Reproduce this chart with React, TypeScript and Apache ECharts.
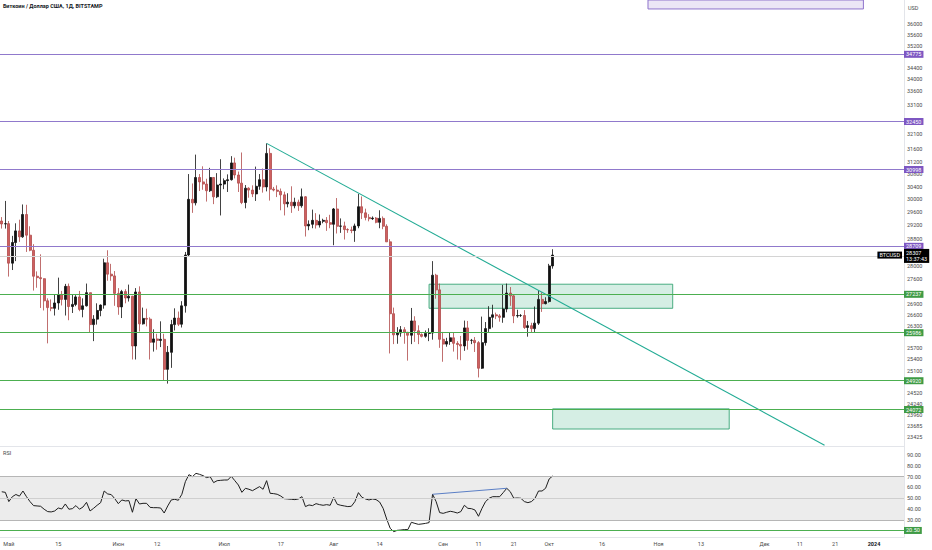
import React, { useEffect, useRef } from "react";
import * as echarts from "echarts";

// ---------- data ----------
const START_UTC = Date.UTC(2023, 3, 29);
const DAY_COUNT = 256;

// [open, close, low, high] per day from 2023-04-29
const candles: number[][] = [
  [29330, 29240, 29100, 29450], [29240, 29250, 29100, 29950], [29250, 28070, 27680, 29330], [28070, 28680, 27870, 28880],
  [28680, 29030, 28130, 29260], [29030, 28850, 28700, 29370], [28850, 29530, 28820, 29840], [29530, 28900, 28400, 29830],
  [28900, 28450, 28420, 29170], [28450, 27690, 27280, 28630], [27690, 27650, 27360, 27830], [27650, 27620, 26790, 28330],
  [27620, 26990, 26720, 27630], [26990, 26800, 25820, 27060], [26800, 26780, 26700, 27030], [26780, 26930, 26580, 27180],
  [26930, 27170, 26740, 27650], [27170, 27030, 26860, 27270], [27030, 27400, 26580, 27470], [27400, 26830, 26450, 27480],
  [26830, 26890, 26650, 27180], [26890, 27100, 26840, 27150], [27100, 26750, 26700, 27270], [26750, 26850, 26530, 27060],
  [26850, 27220, 26830, 27480], [27220, 26330, 26100, 27220], [26330, 26480, 25880, 26590], [26480, 26720, 26330, 26920],
  [26720, 26870, 26560, 26890], [26870, 28080, 26770, 28200], [28080, 27750, 27560, 28450], [27750, 27700, 27560, 28050],
  [27700, 27200, 26850, 27840], [27200, 26820, 26600, 27350], [26820, 27250, 26510, 27300], [27250, 27070, 26920, 27320],
  [27070, 27120, 26970, 27450], [27120, 25750, 25390, 27130], [25750, 27240, 25390, 27350], [27240, 26350, 26140, 27400],
  [26350, 26500, 26330, 26800], [26500, 26480, 26280, 26770], [26480, 25850, 25390, 26530], [25850, 25940, 25600, 26200],
  [25940, 25900, 25650, 26080], [25900, 25930, 25720, 26420], [25930, 25130, 24840, 26080], [25130, 25580, 24760, 25750],
  [25580, 26330, 25170, 26460], [26330, 26510, 26170, 26780], [26510, 26340, 26290, 26690], [26340, 26850, 26250, 26980],
  [26850, 28310, 26660, 28400], [28310, 30000, 28280, 30800], [30000, 29890, 29580, 30500], [29890, 30690, 29810, 31430],
  [30690, 30550, 30260, 30800], [30550, 30480, 30300, 31050], [30480, 30270, 29930, 30650], [30270, 30690, 30230, 31000],
  [30690, 30080, 29850, 30700], [30080, 30450, 30040, 30830], [30450, 30480, 29500, 31280], [30480, 30590, 30320, 30660],
  [30590, 30620, 30230, 30790], [30620, 31160, 30590, 31380], [31160, 30770, 30660, 31330], [30770, 30510, 30230, 30880],
  [30510, 29900, 29850, 31500], [29900, 30350, 29720, 30450], [30350, 30290, 30050, 30380], [30290, 30170, 30070, 30440],
  [30170, 30410, 29950, 31040], [30410, 30620, 30300, 30800], [30620, 30390, 30210, 30980], [30390, 31470, 30250, 31800],
  [31470, 30320, 29960, 31640], [30320, 30290, 30250, 30390], [30290, 30250, 30070, 30440], [30250, 30140, 29660, 30340],
  [30140, 29860, 29500, 30240], [29860, 29910, 29750, 30190], [29910, 29800, 29580, 30410], [29800, 29910, 29720, 30050],
  [29910, 29800, 29640, 29990], [29800, 30080, 29740, 30340], [30080, 29180, 28860, 30100], [29180, 29230, 29050, 29350],
  [29230, 29350, 29110, 29680], [29350, 29210, 29100, 29570], [29210, 29320, 29130, 29530], [29320, 29350, 29260, 29400],
  [29350, 29280, 29030, 29450], [29280, 29230, 29110, 29520], [29230, 29700, 28600, 29730], [29700, 29170, 28950, 30040],
  [29170, 29180, 28970, 29410], [29180, 29070, 28770, 29310], [29070, 29060, 28970, 29110], [29060, 29040, 28960, 29160],
  [29040, 29180, 28700, 29250], [29180, 29770, 29110, 30170], [29770, 29580, 29390, 30090], [29580, 29440, 29350, 29710],
  [29440, 29400, 29320, 29540], [29400, 29420, 29360, 29470], [29420, 29290, 29260, 29450], [29290, 29410, 29110, 29660],
  [29410, 29170, 29080, 29470], [29170, 28700, 28700, 29230], [28700, 26630, 25550, 28780], [26630, 26050, 25800, 26800],
  [26050, 26100, 25810, 26260], [26100, 26190, 26000, 26290], [26190, 26120, 25810, 26260], [26120, 26040, 25360, 26130],
  [26040, 26430, 25800, 26790], [26430, 26160, 25860, 26560], [26160, 26060, 25800, 26310], [26060, 26010, 25980, 26090],
  [26010, 26090, 25970, 26170], [26090, 26100, 25880, 26230], [26100, 27720, 25920, 28130], [27720, 27300, 27050, 27760],
  [27300, 25930, 25700, 27480], [25930, 25800, 25330, 26130], [25800, 25870, 25730, 25970], [25870, 25970, 25780, 26120],
  [25970, 25820, 25600, 26100], [25820, 25790, 25390, 25880], [25790, 25750, 25370, 26020], [25750, 26240, 25620, 26440],
  [26240, 25900, 25650, 26430], [25900, 25900, 25800, 25940], [25900, 25840, 25590, 25990], [25840, 25160, 24920, 25880],
  [25160, 25840, 25140, 26550], [25840, 26220, 25760, 26400], [26220, 26530, 26130, 26840], [26530, 26600, 26250, 26880],
  [26600, 26570, 26480, 26660], [26570, 26530, 26410, 26620], [26530, 26760, 26380, 27440], [26760, 27210, 26670, 27480],
  [27210, 27130, 26850, 27380], [27130, 26570, 26370, 27160], [26570, 26580, 26520, 26740], [26580, 26580, 26540, 26620],
  [26580, 26250, 26210, 26730], [26250, 26300, 26000, 26430], [26300, 26220, 26120, 26380], [26220, 26370, 26120, 26830],
  [26370, 27030, 26320, 27290], [27030, 26910, 26680, 27230], [26910, 26970, 26890, 27090], [26970, 27990, 26940, 28050],
  [27990, 28307, 27910, 28480],
];

const rsiValues: number[] = [
  56.0, 55.5, 47.0, 51.5, 53.5, 52.0, 56.7, 51.5, 47.0, 43.3,
  43.0, 42.7, 40.0, 37.8, 37.5, 38.4, 41.1, 40.2, 44.8, 40.0,
  40.5, 43.3, 40.0, 42.0, 46.3, 38.4, 40.8, 43.6, 46.0, 56.7,
  54.0, 53.4, 49.7, 45.1, 48.5, 47.6, 47.9, 37.2, 49.7, 44.8,
  45.4, 45.4, 41.7, 41.4, 41.4, 41.1, 36.5, 43.0, 48.5, 49.1,
  48.2, 53.7, 65.3, 71.7, 69.9, 72.9, 72.0, 70.8, 69.0, 69.9,
  64.4, 66.2, 66.5, 66.8, 66.8, 70.2, 66.2, 62.2, 55.5, 59.2,
  58.3, 57.0, 58.9, 60.7, 58.3, 66.2, 54.6, 54.3, 53.7, 52.1,
  49.7, 49.4, 49.1, 48.8, 49.4, 51.5, 42.4, 43.9, 43.3, 45.1,
  44.2, 43.6, 44.2, 43.6, 50.9, 44.5, 43.6, 43.0, 42.4, 42.7,
  47.0, 55.2, 50.9, 49.4, 48.5, 49.4, 48.8, 46.6, 40.8, 31.0,
  22.5, 19.4, 20.6, 20.9, 21.3, 21.3, 28.0, 27.0, 26.1, 26.5,
  27.0, 27.7, 53.7, 47.0, 36.9, 36.2, 37.2, 38.1, 37.5, 36.5,
  37.8, 43.6, 40.8, 40.5, 39.3, 33.5, 40.8, 47.0, 50.0, 51.5,
  51.5, 51.5, 55.2, 59.2, 56.1, 50.0, 50.3, 50.0, 47.0, 46.0,
  47.0, 50.0, 56.7, 56.7, 59.2, 67.7, 70.5,
];

const priceTicks = [
  36000, 35600, 35200, 34400, 34000, 33600, 33100, 32600, 32100, 31600, 31200, 30800, 30400, 30000,
  29600, 29200, 28800, 28400, 28000, 27600, 26900, 26600, 26300, 25700, 25400, 25100, 24800, 24520,
  24240, 23960, 23685, 23425,
];
const rsiTicks = [30, 40, 50, 60, 70, 80, 90];

const purpleLevels = [34775, 32450, 30998, 28709];
const greenLevels = [27237, 25986, 24920, 24072];
const lastPrice = 28307;
const countdown = "13:37:43";
const rsiUserLevel = 20.5;
const rsiBand = [30, 70];
const rsiMid = 50;

const dateLabels: Record<string, string> = {
  "2023-05-01": "Май", "2023-05-15": "15", "2023-06-01": "Июн", "2023-06-12": "12",
  "2023-07-01": "Июл", "2023-07-17": "17", "2023-08-01": "Авг", "2023-08-14": "14",
  "2023-09-01": "Сен", "2023-09-11": "11", "2023-09-21": "21", "2023-10-01": "Окт",
  "2023-10-16": "16", "2023-11-01": "Ноя", "2023-11-13": "13", "2023-12-01": "Дек",
  "2023-12-11": "11", "2023-12-21": "21", "2024-01-01": "2024",
};

const trendLine: [string, number][] = [["2023-07-13", 31800], ["2023-12-18", 23220]];
const rsiDivergence: [string, number][] = [["2023-08-29", 53.7], ["2023-09-19", 59.2]];

const greenZones: [string, number, string, number][] = [
  ["2023-08-28", 27461, "2023-11-05", 26781],
  ["2023-10-02", 24117, "2023-11-21", 23616],
];
const purpleZones: [string, number, string, number][] = [
  ["2023-10-29", 38500, "2023-12-29", 36580],
];

const PRICE_MIN = 23202;
const PRICE_MAX = 36923;
const RSI_MIN = 14.5;
const RSI_MAX = 98;

const TITLE = "Биткоин / Доллар США, 1Д, BITSTAMP";

// ---------- helpers ----------
const L = (p: number) => Math.log(p);
const dates: string[] = Array.from({ length: DAY_COUNT }, (_, i) =>
  new Date(START_UTC + i * 86400000).toISOString().slice(0, 10)
);

const FONT = 'Roboto, "Noto Sans", sans-serif';
const PURPLE_LINE = "#9079cc";
const PURPLE_TAG = "#7e57c2";
const GREEN_LINE = "#4caf50";
const GREEN_TAG = "#3f9b45";

function tagLabel(text: string, bg: string) {
  return {
    show: true,
    position: "end",
    distance: 0,
    formatter: text,
    backgroundColor: bg,
    color: "#ffffff",
    fontSize: 5.5,
    fontFamily: FONT,
    padding: [1, 2, 0, 2],
  };
}

export default function App() {
  const ref = useRef<HTMLDivElement>(null);

  useEffect(() => {
    if (!ref.current) return;
    const chart = echarts.init(ref.current, undefined, { renderer: "svg" });

    const levelLines: any[] = [
      ...purpleLevels.map((v) => ({
        yAxis: L(v),
        lineStyle: { color: PURPLE_LINE, width: 1, type: "solid" },
        label: tagLabel(String(v), PURPLE_TAG),
      })),
      ...greenLevels.map((v) => ({
        yAxis: L(v),
        lineStyle: { color: GREEN_LINE, width: 1, type: "solid" },
        label: tagLabel(String(v), GREEN_TAG),
      })),
      {
        yAxis: L(lastPrice),
        lineStyle: { color: "#d4d4d4", width: 1, type: "solid" },
        label: {
          ...tagLabel(`${lastPrice}\n${countdown}`, "#000000"),
          lineHeight: 6,
          padding: [1, 2, 1, 2],
        },
      },
    ];

    const zoneAreas: any[] = [
      ...greenZones.map(([d1, p1, d2, p2]) => [
        {
          xAxis: d1,
          yAxis: L(p1),
          itemStyle: { color: "rgba(46,170,120,0.2)", borderColor: "rgba(46,160,110,0.85)", borderWidth: 1 },
        },
        { xAxis: d2, yAxis: L(p2) },
      ]),
      ...purpleZones.map(([d1, p1, d2, p2]) => [
        {
          xAxis: d1,
          yAxis: L(p1),
          itemStyle: { color: "rgba(149,117,205,0.18)", borderColor: "#8f74cc", borderWidth: 1 },
        },
        { xAxis: d2, yAxis: L(p2) },
      ]),
    ];

    const option: any = {
      animation: false,
      backgroundColor: "#ffffff",
      textStyle: { fontFamily: FONT },
      grid: [
        { left: 0, right: 28, top: 0, height: 446 },
        { left: 0, right: 28, top: 446, height: 91 },
      ],
      xAxis: [
        {
          type: "category",
          gridIndex: 0,
          data: dates,
          boundaryGap: true,
          axisLine: { show: true, lineStyle: { color: "#e3e5ea" } },
          axisTick: { show: false },
          axisLabel: { show: false },
          splitLine: { show: false },
        },
        {
          type: "category",
          gridIndex: 1,
          data: dates,
          boundaryGap: true,
          axisLine: { show: true, lineStyle: { color: "#e3e5ea" } },
          axisTick: { show: false },
          splitLine: { show: false },
          axisLabel: {
            interval: (_i: number, v: string) => dateLabels[v] !== undefined,
            formatter: (v: string) => (dateLabels[v] === "2024" ? "{b|2024}" : dateLabels[v] || ""),
            rich: { b: { fontWeight: "bold", fontSize: 5.5, color: "#131722", fontFamily: FONT } },
            fontSize: 5.5,
            color: "#4a4a4a",
            fontFamily: FONT,
            margin: 4,
          },
        },
      ],
      yAxis: [
        {
          type: "value",
          gridIndex: 0,
          position: "right",
          min: L(PRICE_MIN),
          max: L(PRICE_MAX),
          splitLine: { show: false },
          axisLine: { show: true, lineStyle: { color: "#e3e5ea" } },
          axisTick: { show: false },
          axisLabel: {
            customValues: priceTicks.map(L),
            formatter: (v: number) => String(Math.round(Math.exp(v))),
            fontSize: 5.5,
            color: "#4a4a4a",
            fontFamily: FONT,
            margin: 3,
          },
        },
        {
          type: "value",
          gridIndex: 1,
          position: "right",
          min: RSI_MIN,
          max: RSI_MAX,
          splitLine: { show: false },
          axisLine: { show: true, lineStyle: { color: "#e3e5ea" } },
          axisTick: { show: false },
          axisLabel: {
            customValues: rsiTicks,
            formatter: (v: number) => v.toFixed(2),
            fontSize: 5.5,
            color: "#4a4a4a",
            fontFamily: FONT,
            margin: 3,
          },
        },
      ],
      series: [
        {
          type: "candlestick",
          xAxisIndex: 0,
          yAxisIndex: 0,
          data: candles.map((c) => c.map(L)),
          barWidth: "70%",
          itemStyle: {
            color: "#111111",
            color0: "#cf6060",
            borderColor: "#111111",
            borderColor0: "#b04a4a",
            borderWidth: 0.8,
          },
          markLine: { symbol: "none", silent: true, animation: false, data: levelLines },
          markArea: { silent: true, data: zoneAreas },
          z: 3,
        },
        {
          type: "line",
          xAxisIndex: 0,
          yAxisIndex: 0,
          data: trendLine.map(([d, p]) => [d, L(p)]),
          symbol: "none",
          lineStyle: { color: "#22ab94", width: 1.1 },
          z: 4,
        },
        {
          type: "line",
          xAxisIndex: 1,
          yAxisIndex: 1,
          data: rsiValues,
          symbol: "none",
          lineStyle: { color: "#1e1e1e", width: 1 },
          z: 4,
          markArea: {
            silent: true,
            itemStyle: { color: "#ececec" },
            data: [[{ yAxis: rsiBand[0] }, { yAxis: rsiBand[1] }]],
          },
          markLine: {
            symbol: "none",
            silent: true,
            data: [
              { yAxis: rsiBand[1], lineStyle: { color: "#b6b6b6", width: 1, type: "solid" }, label: { show: false } },
              { yAxis: rsiMid, lineStyle: { color: "#cfcfcf", width: 1, type: "solid" }, label: { show: false } },
              { yAxis: rsiBand[0], lineStyle: { color: "#b6b6b6", width: 1, type: "solid" }, label: { show: false } },
              {
                yAxis: rsiUserLevel,
                lineStyle: { color: GREEN_LINE, width: 1, type: "solid" },
                label: tagLabel(rsiUserLevel.toFixed(2), GREEN_TAG),
              },
            ],
          },
        },
        {
          type: "line",
          xAxisIndex: 1,
          yAxisIndex: 1,
          data: rsiDivergence,
          symbol: "none",
          lineStyle: { color: "#5b7fc6", width: 1 },
          z: 5,
        },
      ],
      graphic: [
        {
          type: "text",
          x: 3,
          y: 6,
          style: { text: TITLE, fill: "#131722", fontSize: 5.5, fontWeight: "bold", fontFamily: FONT, verticalAlign: "middle" },
        },
        {
          type: "text",
          x: 908,
          y: 8,
          style: { text: "USD", fill: "#4a4a4a", fontSize: 5.5, fontFamily: FONT, verticalAlign: "middle" },
        },
        {
          type: "text",
          x: 3,
          y: 453,
          style: { text: "RSI", fill: "#4a4a4a", fontSize: 5.5, fontFamily: FONT, verticalAlign: "middle" },
        },
      ],
    };

    chart.setOption(option);

    const py = chart.convertToPixel({ yAxisIndex: 0 }, L(lastPrice)) as number;
    chart.setOption({
      graphic: [
        ...option.graphic,
        {
          type: "text",
          x: 902,
          y: py,
          z: 10,
          style: {
            text: "BTCUSD",
            fill: "#ffffff",
            backgroundColor: "#000000",
            padding: [1, 2, 0, 2],
            fontSize: 5.5,
            fontFamily: FONT,
            align: "right",
            verticalAlign: "middle",
          },
        },
      ],
    });

    return () => chart.dispose();
  }, []);

  return (
    <div
      ref={ref}
      style={{ position: "fixed", left: 0, top: 0, width: 932, height: 550, background: "#fff" }}
    />
  );
}
